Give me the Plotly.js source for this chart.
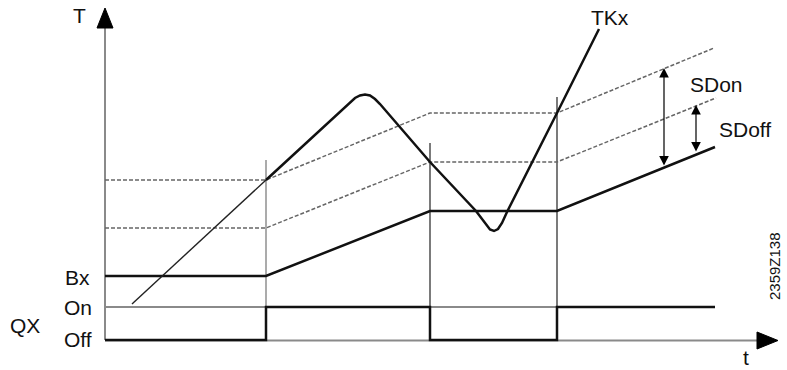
<!DOCTYPE html>
<html><head>
<script src="https://cdn.plot.ly/plotly-3.0.1.min.js"></script>
<style>body{margin:0;background:#fff}</style>
</head><body>
<div id="c" style="width:787px;height:370px"></div>
<script>
// Diagram geometry (pixel-like units: x to the right, y downward)
const bxX   = [105, 266, 430, 557, 715];
const bxY   = [276, 276, 211, 211, 147];
const sdonX = [105, 266, 430, 557, 714];
const sdonY = [180, 180, 113, 113, 48];
const sdoffX= [105, 266, 430, 557, 716];
const sdoffY= [228, 228, 162, 162, 98];
const qxX   = [105, 266, 266, 430, 430, 557, 557, 715];
const qxY   = [340, 340, 307, 307, 340, 340, 307, 307];
const onX   = [105, 715];
const onY   = [307, 307];
const tk1X  = [132, 266];
const tk1Y  = [304, 180];
const tk2X  = [266, 345, 350, 355, 360, 365, 370, 375, 380, 386, 430, 476, 481, 486, 490, 494, 498, 502, 507, 557, 599];
const tk2Y  = [180, 107, 102, 98, 95.5, 94.5, 95.5, 99, 104, 111, 162, 211, 218, 225, 229.5, 231, 229, 223, 212, 113, 29];
const vX1 = [266, 266], vY1 = [160, 340];
const vX2 = [430, 430], vY2 = [143, 340];
const vX3 = [557, 557], vY3 = [97, 340];
const tAxX = [105, 105], tAxY = [340, 28];
const timeAxX = [105, 758], timeAxY = [340.5, 340.5];
const tHeadX = [105, 97, 113, 105], tHeadY = [8, 28, 28, 8];
const timeHeadX = [778, 757, 757, 778], timeHeadY = [340.5, 332, 349, 340.5];
const sdonArrowX = 664, sdonArrowTop = 68, sdonArrowBot = 167;
const sdoffArrowX = 696, sdoffArrowTop = 105, sdoffArrowBot = 153;
const labels = [
  {text: 'T', x: 79, y: 15, size: 21},
  {text: 'TKx', x: 610, y: 17, size: 21},
  {text: 'SDon', x: 716, y: 84, size: 21},
  {text: 'SDoff', x: 745, y: 129, size: 21},
  {text: 'Bx', x: 77, y: 277, size: 21},
  {text: 'On', x: 78, y: 307, size: 21},
  {text: 'Off', x: 78, y: 339, size: 21},
  {text: 'QX', x: 25, y: 325, size: 21},
  {text: 't', x: 746, y: 357, size: 21}
];
const code = '2359Z138';

const FONT = 'Liberation Sans, Arial, sans-serif';
const ln = (x, y, color, width, dash) => ({x, y, type: 'scatter', mode: 'lines', hoverinfo: 'skip',
  line: {color, width, dash: dash || 'solid'}});
const tri = (x, y) => ({x, y, type: 'scatter', mode: 'lines', fill: 'toself', fillcolor: '#000',
  line: {color: '#000', width: 1}, hoverinfo: 'skip'});

const traces = [
  ln(tAxX, tAxY, '#8a8a8a', 2),
  ln(timeAxX, timeAxY, '#8a8a8a', 2),
  ln(onX, onY, '#8a8a8a', 2),
  ln(vX1, vY1, '#8f8f8f', 1.5),
  ln(vX2, vY2, '#333', 1.3),
  ln(vX3, vY3, '#333', 1.3),
  ln(sdonX, sdonY, '#666', 1.5, '4px,2px'),
  ln(sdoffX, sdoffY, '#666', 1.5, '4px,2px'),
  ln(bxX, bxY, '#111', 2.5),
  ln(qxX, qxY, '#111', 2.5),
  ln(tk1X, tk1Y, '#222', 1.4),
  ln(tk2X, tk2Y, '#111', 2.5),
  tri(tHeadX, tHeadY),
  tri(timeHeadX, timeHeadY)
];

const ann = labels.map(l => ({x: l.x, y: l.y, xref: 'x', yref: 'y', text: l.text, showarrow: false,
  font: {family: FONT, size: l.size, color: '#111'}, xanchor: 'center', yanchor: 'middle'}));
ann.push({x: 774, y: 266, xref: 'x', yref: 'y', text: code, showarrow: false, textangle: -90,
  font: {family: FONT, size: 15, color: '#111'}, xanchor: 'center', yanchor: 'middle'});
const dbl = (x, y1, y2) => ({x, y: y1, ax: x, ay: y2, xref: 'x', yref: 'y', axref: 'x', ayref: 'y',
  showarrow: true, arrowside: 'end+start', arrowhead: 2, arrowsize: 1.6, arrowwidth: 1.2,
  arrowcolor: '#000', text: '', standoff: 0, startstandoff: 0});
ann.push(dbl(sdonArrowX, sdonArrowTop, sdonArrowBot));
ann.push(dbl(sdoffArrowX, sdoffArrowTop, sdoffArrowBot));

const layout = {
  width: 787, height: 370, margin: {l: 0, r: 0, t: 0, b: 0},
  paper_bgcolor: '#fff', plot_bgcolor: '#fff', showlegend: false,
  xaxis: {range: [0, 787], visible: false, fixedrange: true},
  yaxis: {range: [370, 0], visible: false, fixedrange: true},
  annotations: ann
};
Plotly.newPlot('c', traces, layout, {staticPlot: true, displayModeBar: false});
</script>
</body></html>
